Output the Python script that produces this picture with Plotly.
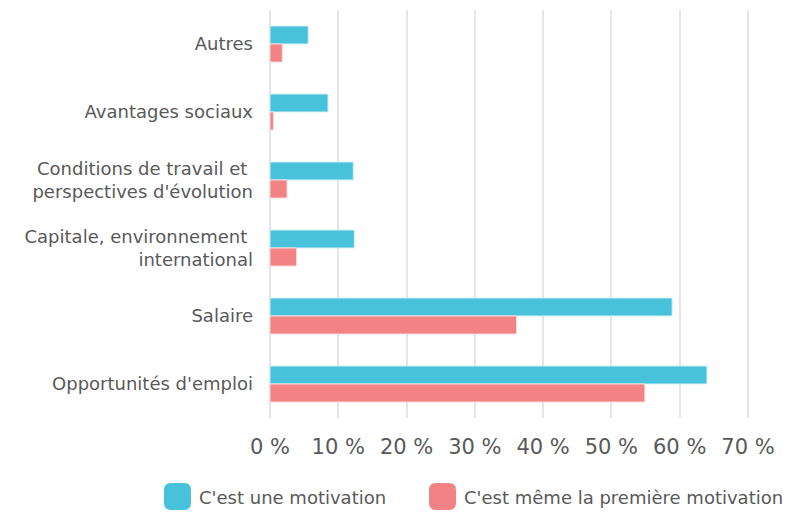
import plotly.graph_objects as go

categories = ["Autres", "Avantages sociaux", "Conditions de travail et <br>perspectives d'évolution",
              "Capitale, environnement <br>international", "Salaire", "Opportunités d'emploi"]
motivation = [5.6, 8.5, 12.2, 12.35, 58.9, 64.0]
premiere = [1.8, 0.5, 2.5, 3.9, 36.1, 54.9]
series_names = ["C'est une motivation", "C'est même la première motivation"]
tick_vals = [0, 10, 20, 30, 40, 50, 60, 70]
tick_labels = ["0 %", "10 %", "20 %", "30 %", "40 %", "50 %", "60 %", "70 %"]

BLUE = "#48C2DA"
RED = "#F38284"
FONT = "DejaVu Sans"
TXT = "#595959"
GRID = "#E5E5E5"

fig = go.Figure()
fig.add_trace(go.Bar(y=categories, x=motivation, orientation="h", name=series_names[0],
                     marker=dict(color=BLUE, line=dict(color="#D8F1F7", width=1)), showlegend=False))
fig.add_trace(go.Bar(y=categories, x=premiere, orientation="h", name=series_names[1],
                     marker=dict(color=RED, line=dict(color="#FBDCDC", width=1)), showlegend=False))

W, H = 811, 512
ml, mr, mt, mb = 270, 61, 10, 94
PW, PH = W - ml - mr, H - mt - mb
fig.update_layout(
    width=W, height=H,
    margin=dict(l=ml, r=mr, t=mt, b=mb),
    paper_bgcolor="white", plot_bgcolor="white",
    barmode="group", bargap=0.47, bargroupgap=0,
    font=dict(family=FONT, color=TXT),
    xaxis=dict(range=[0, 70.3], tickmode="array", tickvals=tick_vals, ticktext=tick_labels,
               showgrid=True, gridcolor=GRID, gridwidth=2, zeroline=True, zerolinecolor=GRID,
               zerolinewidth=2, showline=False,
               tickfont=dict(size=21, color=TXT), ticks="", ticklabelstandoff=14),
    yaxis=dict(autorange="reversed", tickfont=dict(size=18, color=TXT), ticks="",
               showgrid=False, zeroline=False, showline=False, ticklabelstandoff=16),
)

def px2x(p):
    return (p - ml) / PW

def px2y(p):
    return (H - mb - p) / PH

def rounded(x0, y0, x1, y1, rx, ry):
    return (f"M{x0+rx},{y0} L{x1-rx},{y0} Q{x1},{y0} {x1},{y0+ry} L{x1},{y1-ry} Q{x1},{y1} {x1-rx},{y1} "
            f"L{x0+rx},{y1} Q{x0},{y1} {x0},{y1-ry} L{x0},{y0+ry} Q{x0},{y0} {x0+rx},{y0} Z")

rx, ry = 7 / PW, 7 / PH
legend_items = [(164, BLUE, series_names[0]), (429, RED, series_names[1])]
for lx, col, name in legend_items:
    x0, x1 = px2x(lx), px2x(lx + 27)
    y0, y1 = px2y(510), px2y(483)
    fig.add_shape(type="path", xref="paper", yref="paper",
                  path=rounded(x0, y0, x1, y1, rx, ry),
                  fillcolor=col, line=dict(width=0), layer="above")
    fig.add_annotation(x=px2x(lx + 33), y=px2y(497), xref="paper", yref="paper",
                       text=name, showarrow=False, xanchor="left", yanchor="middle",
                       font=dict(size=18, color=TXT, family=FONT))

fig.write_html("out.html", config={"displayModeBar": False},
               post_script="document.body.style.margin='0';document.body.style.overflow='hidden';")
